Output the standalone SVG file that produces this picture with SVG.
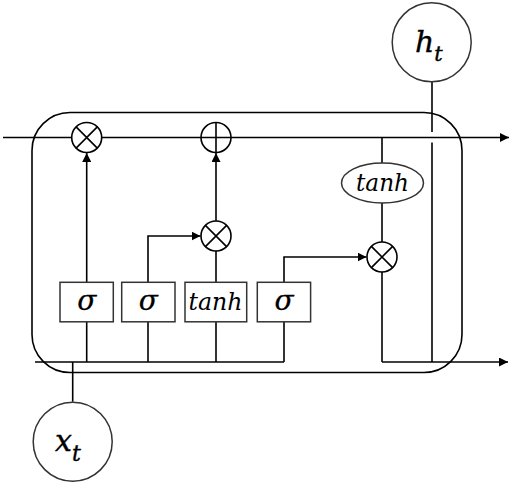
<svg xmlns="http://www.w3.org/2000/svg" width="512" height="489" viewBox="0 0 512 489">
<defs>
<marker id="arr" viewBox="0 0 10 10" refX="10" refY="5" markerWidth="9" markerHeight="9" markerUnits="userSpaceOnUse" orient="auto">
<path d="M0,0 L10,5 L0,10 z" fill="#000"/>
</marker>
</defs>
<style>
.ln{stroke:#000;stroke-width:1.6;fill:none}
.sh{stroke:#333;stroke-width:1.5;fill:#fff}
.op{stroke:#000;stroke-width:1.6;fill:#fff}
.t{font-family:"DejaVu Serif","Liberation Serif",serif;font-style:italic;fill:#000;text-anchor:middle}
.b{stroke:#000;stroke-width:0.3}
.v{font-family:"DejaVu Serif","Liberation Serif",serif;font-style:italic;fill:#000;stroke:#000;stroke-width:0.4}
</style>
<rect width="512" height="489" fill="#fff"/>
<g id="cell">
<rect x="32" y="112.5" width="430" height="260" rx="38" ry="38" class="ln" stroke-width="1.5"/>
</g>
<g id="connectors">
<line x1="3" y1="137.5" x2="509" y2="137.5" class="ln" marker-end="url(#arr)"/>
<line x1="35" y1="362" x2="284" y2="362" class="ln"/>
<line x1="382" y1="362" x2="508" y2="362" class="ln" marker-end="url(#arr)"/>
<line x1="86.7" y1="282" x2="86.7" y2="153" class="ln" marker-end="url(#arr)"/>
<line x1="216" y1="221" x2="216" y2="153" class="ln" marker-end="url(#arr)"/>
<polyline points="148,282 148,236 200.5,236" class="ln" marker-end="url(#arr)"/>
<line x1="216" y1="282" x2="216" y2="251" class="ln"/>
<polyline points="284,282 284,257 366.5,257" class="ln" marker-end="url(#arr)"/>
<line x1="382" y1="137.5" x2="382" y2="163" class="ln"/>
<line x1="382" y1="203" x2="382" y2="242" class="ln"/>
<line x1="382" y1="272" x2="382" y2="362" class="ln"/>
<line x1="86.7" y1="322" x2="86.7" y2="362" class="ln"/>
<line x1="148" y1="322" x2="148" y2="362" class="ln"/>
<line x1="216" y1="322" x2="216" y2="362" class="ln"/>
<line x1="284" y1="322" x2="284" y2="362" class="ln"/>
<line x1="432" y1="82" x2="432" y2="132" class="ln"/>
<line x1="432" y1="142.5" x2="432" y2="362" class="ln"/>
<line x1="72.7" y1="362" x2="72.7" y2="401.7" class="ln"/>
</g>
<g id="mul-forget">
<circle cx="86.7" cy="137.5" r="15" class="op"/>
<path d="M76.1,126.9 L97.3,148.1 M97.3,126.9 L76.1,148.1" class="ln"/>
</g>
<g id="add-cell">
<circle cx="216" cy="137.5" r="15" class="op"/>
<path d="M216,122.5 L216,152.5 M201,137.5 L231,137.5" class="ln"/>
</g>
<g id="mul-input">
<circle cx="216" cy="236" r="15" class="op"/>
<path d="M205.4,225.4 L226.6,246.6 M226.6,225.4 L205.4,246.6" class="ln"/>
</g>
<g id="mul-output">
<circle cx="382" cy="257" r="15" class="op"/>
<path d="M371.4,246.4 L392.6,267.6 M392.6,246.4 L371.4,267.6" class="ln"/>
</g>
<g id="tanh-cell">
<ellipse cx="382.5" cy="183" rx="41" ry="20" class="sh"/>
<text x="382.5" y="191" class="t" font-size="24" textLength="53" lengthAdjust="spacingAndGlyphs">tanh</text>
</g>
<g id="gate-forget">
<rect x="60" y="282.3" width="53.3" height="39.5" class="sh"/>
<text x="86.7" y="310" class="t b" font-size="28">σ</text>
</g>
<g id="gate-input">
<rect x="121.7" y="282.3" width="53.3" height="39.5" class="sh"/>
<text x="148.3" y="310" class="t b" font-size="28">σ</text>
</g>
<g id="gate-candidate">
<rect x="185" y="282.3" width="61.7" height="39.5" class="sh"/>
<text x="215.5" y="310" class="t" font-size="24" textLength="54" lengthAdjust="spacingAndGlyphs">tanh</text>
</g>
<g id="gate-output">
<rect x="257.3" y="282.3" width="53.3" height="39.5" class="sh"/>
<text x="284" y="310" class="t b" font-size="28">σ</text>
</g>
<g id="h-t">
<circle cx="431.7" cy="42.3" r="39.5" class="sh"/>
<text x="415" y="51.7" class="v" font-size="30">h<tspan font-size="21" dy="9.5">t</tspan></text>
</g>
<g id="x-t">
<circle cx="72.7" cy="441.7" r="39.5" class="sh"/>
<text x="55" y="450.7" class="v" font-size="30">x<tspan font-size="22" dy="10.5">t</tspan></text>
</g>
</svg>
